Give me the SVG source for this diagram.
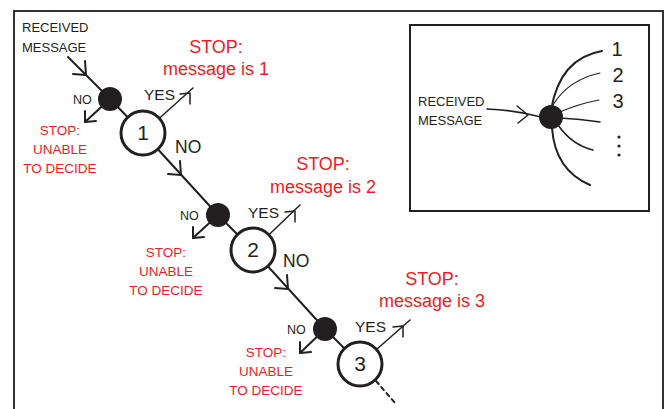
<svg xmlns="http://www.w3.org/2000/svg" width="666" height="409" viewBox="0 0 666 409">
<style>
.ln{fill:none;stroke:#231f20;stroke-width:2;stroke-linecap:round;stroke-linejoin:round}
.thin{fill:none;stroke:#231f20;stroke-width:1.5;stroke-linecap:round;stroke-linejoin:round}
.fine{fill:none;stroke:#231f20;stroke-width:1.1;stroke-linecap:round}
.dot{fill:#231f20}
.ring{fill:#fff;stroke:#231f20;stroke-width:3}
.k{font-family:"Liberation Sans",Arial,sans-serif;fill:#231f20}
.r{font-family:"Liberation Sans",Arial,sans-serif;fill:#ed1c24;text-anchor:middle}
.s{font-size:13px}
.num{font-size:21px;text-anchor:middle}
</style>
<rect x="0" y="0" width="666" height="409" fill="#fff"/>
<path d="M14,409 L14,11 L663,11 L663,409" fill="none" stroke="#333" stroke-width="2"/>

<g id="connectors">
  <line class="ln" x1="68" y1="57" x2="110" y2="99"/>
  <polyline class="ln" points="85,61 86,75 73,74"/>
  <line class="ln" x1="110" y1="99" x2="143" y2="133"/>
  <line class="ln" x1="110" y1="99" x2="85" y2="122"/>
  <polyline class="ln" points="85,111 85,122 96,121"/>
  <line class="thin" x1="143" y1="133" x2="193" y2="88"/>
  <polyline class="thin" points="180,94 190,93 190,104"/>
  <line class="ln" x1="143" y1="133" x2="218" y2="215"/>
  <polyline class="ln" points="180,161 181,175 168,174"/>
  <line class="ln" x1="218" y1="215" x2="253" y2="250"/>
  <line class="ln" x1="218" y1="215" x2="193" y2="238"/>
  <polyline class="ln" points="193,227 193,238 204,237"/>
  <line class="thin" x1="253" y1="250" x2="300" y2="205"/>
  <polyline class="thin" points="285,212 295,211 295,222"/>
  <line class="ln" x1="253" y1="250" x2="325" y2="329"/>
  <polyline class="ln" points="287,275 288,289 275,288"/>
  <line class="ln" x1="325" y1="329" x2="360" y2="364"/>
  <line class="ln" x1="325" y1="329" x2="300" y2="353"/>
  <polyline class="ln" points="300,342 300,353 311,352"/>
  <line class="thin" x1="360" y1="364" x2="410" y2="320"/>
  <polyline class="thin" points="393,327 403,326 403,337"/>
  <line class="ln" x1="376" y1="381" x2="395" y2="403" stroke-dasharray="4 4"/>
</g>

<g id="dot1"><circle class="dot" cx="110" cy="99" r="12"/></g>
<g id="node1"><circle class="ring" cx="143" cy="133" r="22"/><text class="k num" x="143" y="140">1</text></g>
<g id="dot2"><circle class="dot" cx="218" cy="215" r="12"/></g>
<g id="node2"><circle class="ring" cx="253" cy="250" r="22"/><text class="k num" x="253" y="257">2</text></g>
<g id="dot3"><circle class="dot" cx="325" cy="329" r="12"/></g>
<g id="node3"><circle class="ring" cx="360" cy="364" r="22"/><text class="k num" x="360" y="371">3</text></g>

<g id="labels">
  <text class="k s" x="22" y="32">RECEIVED</text>
  <text class="k s" x="22" y="52">MESSAGE</text>

  <text class="k" x="73" y="104" font-size="12.5">NO</text>
  <text class="k" x="180" y="220" font-size="12.5">NO</text>
  <text class="k" x="287" y="334" font-size="12.5">NO</text>

  <text class="k" x="144" y="100" font-size="15.5">YES</text>
  <text class="k" x="248" y="218" font-size="15.5">YES</text>
  <text class="k" x="355" y="332" font-size="15.5">YES</text>

  <text class="k" x="175" y="153" font-size="17.5">NO</text>
  <text class="k" x="283" y="267" font-size="17.5">NO</text>

  <g font-size="18">
    <text class="r" x="216" y="53">STOP:</text>
    <text class="r" x="216" y="75">message is 1</text>
    <text class="r" x="323" y="170">STOP:</text>
    <text class="r" x="323" y="193">message is 2</text>
    <text class="r" x="432" y="285">STOP:</text>
    <text class="r" x="432" y="307">message is 3</text>
  </g>
  <g font-size="13.5">
    <text class="r" x="60" y="135">STOP:</text>
    <text class="r" x="60" y="154">UNABLE</text>
    <text class="r" x="60" y="173">TO DECIDE</text>
    <text class="r" x="166" y="257">STOP:</text>
    <text class="r" x="166" y="276">UNABLE</text>
    <text class="r" x="166" y="295">TO DECIDE</text>
    <text class="r" x="266" y="357">STOP:</text>
    <text class="r" x="266" y="376">UNABLE</text>
    <text class="r" x="266" y="395">TO DECIDE</text>
  </g>
</g>

<g id="inset">
  <rect x="410" y="25" width="239" height="186" fill="#fff" stroke="#231f20" stroke-width="2"/>
  <text class="k s" x="418" y="106">RECEIVED</text>
  <text class="k s" x="418" y="125">MESSAGE</text>
  <path class="thin" d="M487,109 Q515,110 541,117"/>
  <polyline class="thin" points="517,106 528,115 518,123"/>
  <path class="ln" d="M551,110 Q560,58 602,51"/>
  <path class="fine" d="M553,105 Q568,80 600,73"/>
  <path class="fine" d="M560,112 Q578,104 599,100"/>
  <path class="thin" d="M560,118 Q580,119 600,122"/>
  <path class="thin" d="M558,125 Q572,145 593,150"/>
  <path class="ln" d="M552,128 Q555,170 590,185"/>
  <circle class="dot" cx="551" cy="117" r="12"/>
  <text class="k" x="617" y="56" font-size="20" text-anchor="middle">1</text>
  <text class="k" x="618" y="82" font-size="20" text-anchor="middle">2</text>
  <text class="k" x="618" y="108" font-size="20" text-anchor="middle">3</text>
  <circle class="dot" cx="619" cy="137" r="1.6"/>
  <circle class="dot" cx="619" cy="146" r="1.6"/>
  <circle class="dot" cx="619" cy="155" r="1.6"/>
</g>
</svg>
